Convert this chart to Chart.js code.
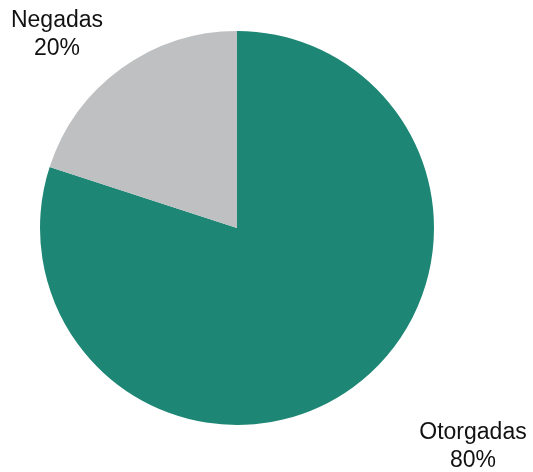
<!DOCTYPE html>
<html lang="es">
<head>
    <meta charset="UTF-8">
    <title>Otorgadas / Negadas</title>
    <script src="https://cdn.jsdelivr.net/npm/chart.js"></script>
    <style>
        html, body {
            margin: 0;
            padding: 0;
            background: #ffffff;
        }
        #wrap {
            width: 533px;
            height: 472px;
        }
    </style>
</head>
<body>
    <div id="wrap"><canvas id="pieChart"></canvas></div>

    <script>
        // Data
        const labels = ['Otorgadas', 'Negadas'];
        const values = [80, 20];
        const colors = ['#1d8674', '#bfc0c2'];

        // Draws the two outside labels (name + percent)
        const outsideLabels = {
            id: 'outsideLabels',
            afterDraw(chart) {
                const ctx = chart.ctx;
                const area = chart.chartArea;
                const total = values.reduce((a, b) => a + b, 0);
                ctx.save();
                ctx.fillStyle = '#111111';
                ctx.font = '23px "Liberation Sans", Arial, sans-serif';
                ctx.textAlign = 'center';
                ctx.textBaseline = 'alphabetic';
                const spots = [
                    { x: area.right + 39, y: area.bottom + 14 },  // Otorgadas
                    { x: area.left + 17, y: area.top - 4 }         // Negadas
                ];
                labels.forEach((lab, i) => {
                    const pct = Math.round(values[i] / total * 100) + '%';
                    ctx.fillText(lab, spots[i].x, spots[i].y);
                    ctx.fillText(pct, spots[i].x, spots[i].y + 28);
                });
                ctx.restore();
            }
        };

        const ctx = document.getElementById('pieChart').getContext('2d');
        new Chart(ctx, {
            type: 'pie',
            data: {
                labels: labels,
                datasets: [{
                    data: values,
                    backgroundColor: colors,
                    borderWidth: 0
                }]
            },
            options: {
                responsive: true,
                maintainAspectRatio: false,
                animation: false,
                layout: {
                    padding: { left: 40, top: 31, right: 99, bottom: 47 }
                },
                plugins: {
                    legend: { display: false },
                    tooltip: { enabled: false }
                }
            },
            plugins: [outsideLabels]
        });
    </script>
</body>
</html>
